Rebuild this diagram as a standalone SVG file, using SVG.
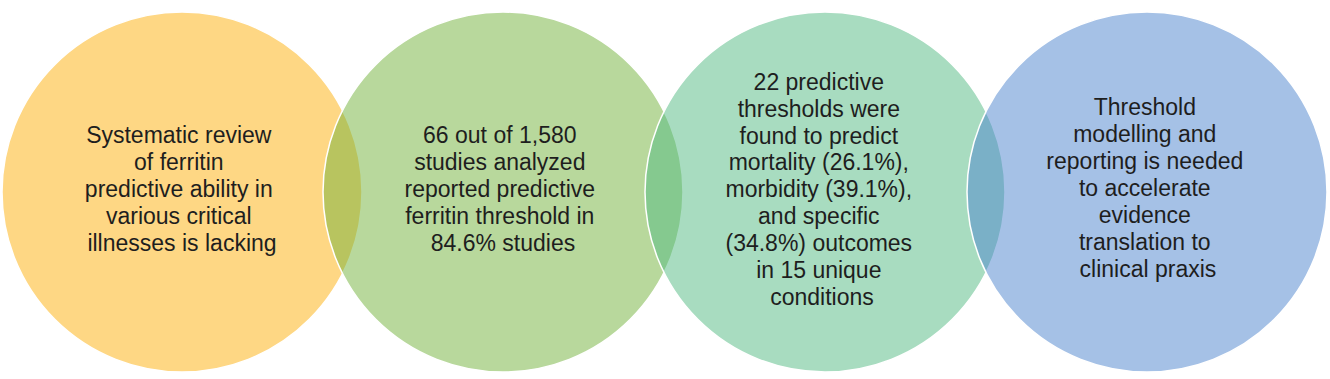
<svg xmlns="http://www.w3.org/2000/svg" width="1330" height="379" viewBox="0 0 1330 379">
  <style>
    .c { stroke: #ffffff; stroke-width: 1.5; }
    .t { font-family: "Liberation Sans", Arial, sans-serif; font-size: 23px; fill: #1e1e1e; text-anchor: middle; }
  </style>
  <rect width="1330" height="379" fill="#ffffff"/>
  <g id="node1">
    <circle class="c" cx="182" cy="192" r="180" fill="#FED784"/>
    <text class="t">
      <tspan x="182" y="143">Systematic review</tspan>
      <tspan x="182" y="170">of ferritin</tspan>
      <tspan x="182" y="197">predictive ability in</tspan>
      <tspan x="182" y="224">various critical</tspan>
      <tspan x="182" y="251">illnesses is lacking</tspan>
    </text>
  </g>
  <g id="node2">
    <circle class="c" cx="503" cy="192" r="180" fill="#71B139" fill-opacity="0.5"/>
    <text class="t">
      <tspan x="503" y="143">66 out of 1,580</tspan>
      <tspan x="503" y="170">studies analyzed</tspan>
      <tspan x="503" y="197">reported predictive</tspan>
      <tspan x="503" y="224">ferritin threshold in</tspan>
      <tspan x="503" y="251">84.6% studies</tspan>
    </text>
  </g>
  <g id="node3">
    <circle class="c" cx="825" cy="192" r="180" fill="#51B981" fill-opacity="0.5"/>
    <text class="t">
      <tspan x="822" y="90">22 predictive</tspan>
      <tspan x="822" y="117">thresholds were</tspan>
      <tspan x="822" y="144">found to predict</tspan>
      <tspan x="822" y="170">mortality (26.1%),</tspan>
      <tspan x="822" y="197">morbidity (39.1%),</tspan>
      <tspan x="822" y="224">and specific</tspan>
      <tspan x="822" y="251">(34.8%) outcomes</tspan>
      <tspan x="822" y="278">in 15 unique</tspan>
      <tspan x="822" y="305">conditions</tspan>
    </text>
  </g>
  <g id="node4">
    <circle class="c" cx="1147" cy="192" r="180" fill="#4B83CD" fill-opacity="0.5"/>
    <text class="t">
      <tspan x="1148" y="115">Threshold</tspan>
      <tspan x="1148" y="142">modelling and</tspan>
      <tspan x="1148" y="169">reporting is needed</tspan>
      <tspan x="1148" y="196">to accelerate</tspan>
      <tspan x="1148" y="223">evidence</tspan>
      <tspan x="1148" y="250">translation to</tspan>
      <tspan x="1148" y="277">clinical praxis</tspan>
    </text>
  </g>
  <g id="connectors"/>
</svg>
